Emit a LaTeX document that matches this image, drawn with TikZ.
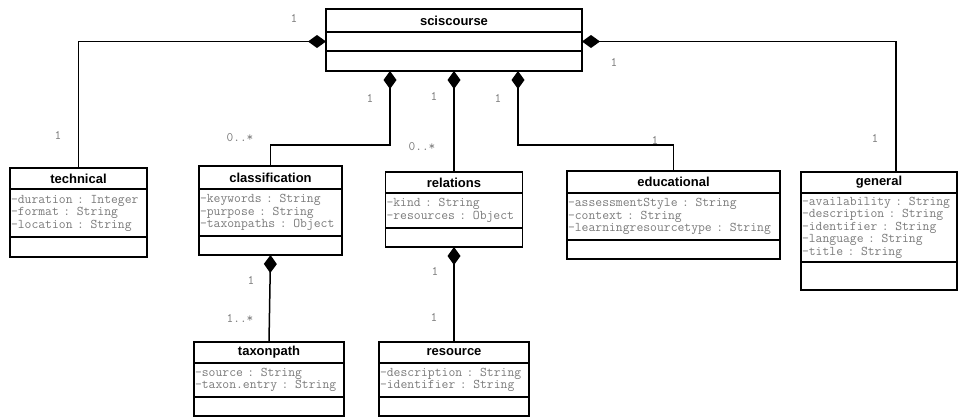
\documentclass[tikz,border=0pt]{standalone}
\usepackage{fontspec}
\setmainfont{Liberation Sans}
\usetikzlibrary{arrows.meta}

\definecolor{attrgray}{HTML}{7A7A7A}

\tikzset{
	classtitle/.style={draw, line width=1.7pt, outer sep=0pt, inner sep=0pt, anchor=north, font=\bfseries\fontsize{13}{15}\selectfont},
	classattr/.style={draw, line width=1.7pt, outer sep=0pt, inner xsep=1pt, inner ysep=0pt, anchor=north, align=left, text=attrgray, font=\ttfamily\fontsize{13.3}{12.5}\selectfont},
	classops/.style={draw, line width=1.7pt, outer sep=0pt, inner sep=0pt, anchor=north},
	comp/.style={line width=1.5pt, -{Diamond[length=18pt,width=13pt]}},
	mult/.style={text=attrgray, font=\ttfamily\fontsize{13}{13}\selectfont},
}

\begin{document}
\begin{tikzpicture}[x=1pt, y=-1pt]
\useasboundingbox (0,0) rectangle (958,418);

% sciscourse
\node at (454, 9)[classtitle, minimum width=256pt, minimum height=23pt](sci){sciscourse};
\node at (sci.south)[classops, minimum width=256pt, minimum height=19pt](sciA){};
\node at (sciA.south)[classops, minimum width=256pt, minimum height=20pt](sciO){};

% technical
\node at (78.5, 168)[classtitle, minimum width=137pt, minimum height=21pt](tech){technical};
\node at (tech.south)[classattr, text width=135pt, minimum height=48pt](techA){-duration : Integer\\-format : String\\-location : String};
\node at (techA.south)[classops, minimum width=137pt, minimum height=20pt](techO){};

% classification
\node at (270.5, 166)[classtitle, minimum width=143pt, minimum height=23pt](cls){classification};
\node at (cls.south)[classattr, text width=141pt, minimum height=47pt](clsA){-keywords : String\\-purpose : String\\-taxonpaths : Object};
\node at (clsA.south)[classops, minimum width=143pt, minimum height=19pt](clsO){};

% relations
\node at (454, 172)[classtitle, minimum width=137pt, minimum height=21pt](rel){relations};
\node at (rel.south)[classattr, text width=135pt, minimum height=35pt](relA){-kind : String\\-resources : Object};
\node at (relA.south)[classops, minimum width=137pt, minimum height=19pt](relO){};

% educational
\node at (673.5, 171)[classtitle, minimum width=213pt, minimum height=22pt](edu){educational};
\node at (edu.south)[classattr, text width=211pt, minimum height=47pt](eduA){-assessmentStyle : String\\-context : String\\-learningresourcetype : String};
\node at (eduA.south)[classops, minimum width=213pt, minimum height=19pt](eduO){};

% general
\node at (879, 172)[classtitle, minimum width=156pt, minimum height=21pt](gen){general};
\node at (gen.south)[classattr, text width=154pt, minimum height=69pt](genA){-availability : String\\-description : String\\-identifier : String\\-language : String\\-title : String};
\node at (genA.south)[classops, minimum width=156pt, minimum height=28pt](genO){};

% taxonpath
\node at (269, 342)[classtitle, minimum width=150pt, minimum height=21pt](tax){taxonpath};
\node at (tax.south)[classattr, text width=148pt, minimum height=34pt](taxA){-source : String\\-taxon.entry : String};
\node at (taxA.south)[classops, minimum width=150pt, minimum height=19pt](taxO){};

% resource
\node at (454, 342)[classtitle, minimum width=150pt, minimum height=21pt](res){resource};
\node at (res.south)[classattr, text width=148pt, minimum height=34pt](resA){-description : String\\-identifier : String};
\node at (resA.south)[classops, minimum width=150pt, minimum height=19pt](resO){};

% compositions
\draw[comp] (tech.north) |- (sciA.west);
\draw[comp] ([xshift=17pt]gen.north) |- (sciA.east);
\draw[comp] (cls.north) -- ++(0,-21) -| ([xshift=-64pt]sciO.south);
\draw[comp] (rel.north) -- (sciO.south);
\draw[comp] (edu.north) -- ++(0,-26) -| ([xshift=64pt]sciO.south);
\draw[comp] (tax.north) -- (clsO.south);
\draw[comp] (res.north) -- (relO.south);

% multiplicities
\node at (294, 18)[mult](m1){1};
\node at (58, 135)[mult](m2){1};
\node at (370, 98)[mult](m3){1};
\node at (240, 138)[mult](m4){0..*};
\node at (434, 96)[mult](m5){1};
\node at (422, 147)[mult](m6){0..*};
\node at (498, 98)[mult](m7){1};
\node at (655, 140)[mult](m8){1};
\node at (614, 62)[mult](m9){1};
\node at (875, 138)[mult](m10){1};
\node at (251, 280)[mult](m11){1};
\node at (240, 318)[mult](m12){1..*};
\node at (435, 271)[mult](m13){1};
\node at (434, 317)[mult](m14){1};

\end{tikzpicture}
\end{document}
